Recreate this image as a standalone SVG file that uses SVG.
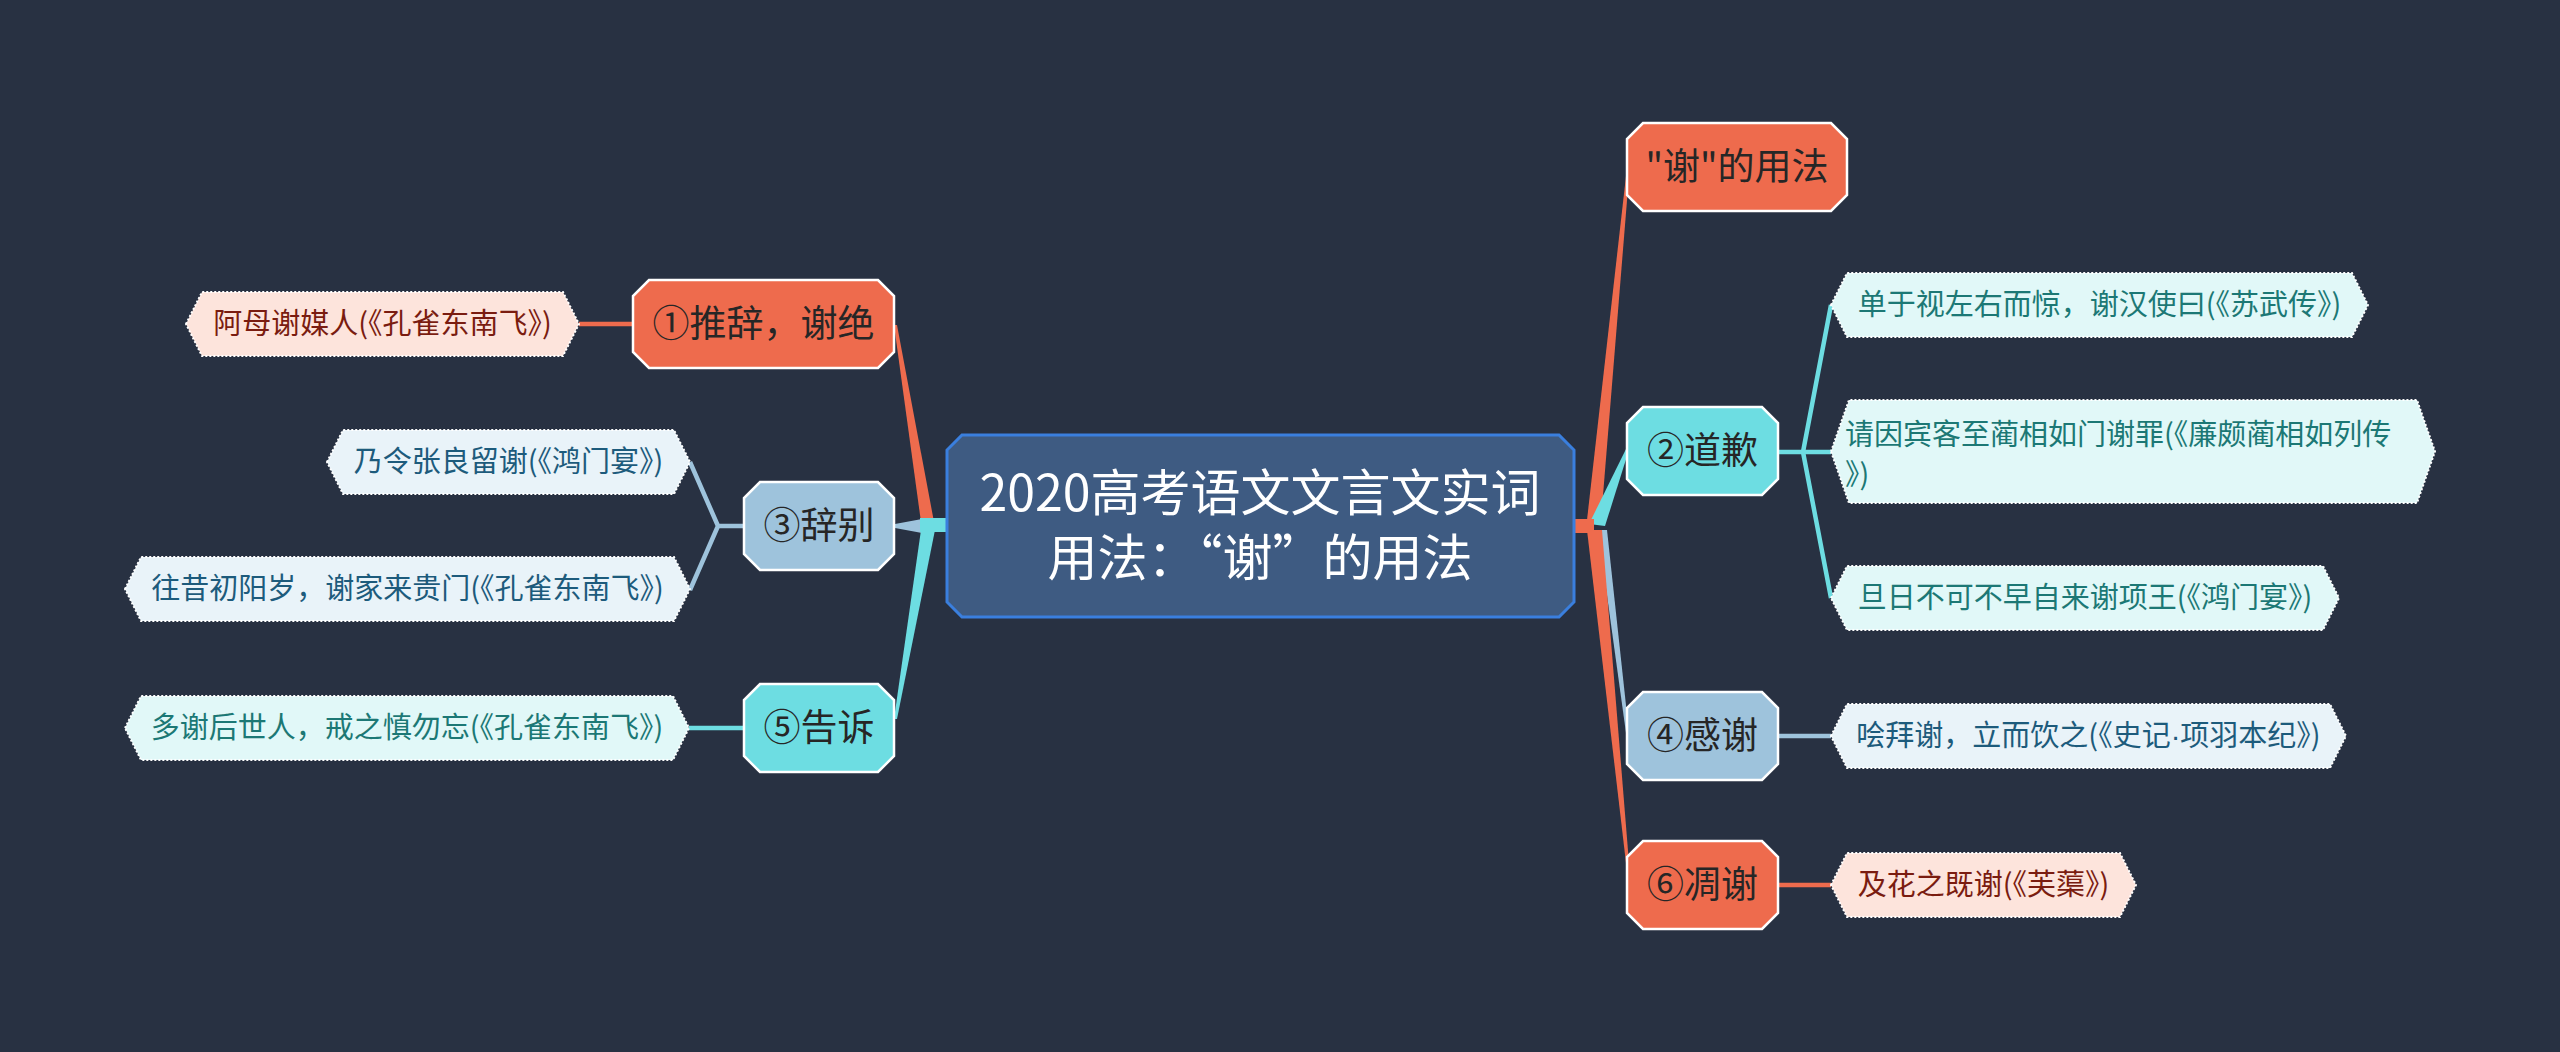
<svg xmlns="http://www.w3.org/2000/svg" width="2560" height="1052" viewBox="0 0 2560 1052">
<style>
text{font-family:"Noto Sans CJK SC","Noto Sans",sans-serif;}
.main{fill:#3e5b82;stroke:#3a7fde;stroke-width:3;}
.mt{fill:#ffffff;font-size:50px;text-anchor:middle;}
.n1{stroke:#ffffff;stroke-width:2.5;}
.or{fill:#ee6b4d;}
.bl{fill:#9ec3dc;}
.cy{fill:#6ddde2;}
.t1{fill:#262626;font-size:37px;text-anchor:middle;}
.lf{stroke:#ffffff;stroke-width:2;stroke-dasharray:2 2;}
.lp{fill:#fde4dc;}
.lb{fill:#e9f3f9;}
.lc{fill:#e1f8f8;}
.t2{font-size:29px;text-anchor:middle;}
.tp{fill:#7a1c10;}
.tb{fill:#1d5b7c;}
.tc{fill:#1c7875;}
.c-or{stroke:#ee6b4d;}
.c-bl{stroke:#9ec3dc;}
.c-cy{stroke:#6ddde2;}
.lk{fill:none;stroke-width:4.5;stroke-linejoin:round;}
</style>
<rect x="0" y="0" width="2560" height="1052" fill="#283142"/>
<g id="connectors">
  <path class="or" d="M921 522 L894 325 L897 325 L934 522 Z"/>
  <path class="bl" d="M922 519 L895 524 L895 528 L922 533 Z"/>
  <path class="cy" d="M921 530 L894 719 L897 719 L935 530 Z"/>
  <rect class="cy" x="920" y="518" width="28" height="14"/>
  <path class="bl" d="M1598 530 L1626 733 L1629 733 L1607 530 Z"/>
  <path class="or" d="M1587 530 L1626 863 L1629 863 L1602 530 Z"/>
  <path class="or" d="M1587 520 L1626 176 L1629 176 L1601 520 Z"/>
  <path class="cy" d="M1589 524 L1627 447 L1628 453 L1605 526 Z"/>
  <rect class="or" x="1572" y="519" width="22" height="14"/>
  <path class="lk c-or" d="M579 324 H633"/>
  <path class="lk c-bl" d="M744 526 H718 M690 462 L718 526 L690 590"/>
  <path class="lk c-cy" d="M689 728 H744"/>
  <path class="lk c-cy" d="M1778 452 H1831 M1831 305 L1803 452 L1831 598"/>
  <path class="lk c-bl" d="M1778 736 H1831"/>
  <path class="lk c-or" d="M1778 885 H1831"/>
</g>
<g id="root">
  <path class="main" d="M962 435 H1559 L1574 450 V602 L1559 617 H962 L947 602 V450 Z"/>
  <text class="mt" x="1260" y="511">2020高考语文文言文实词</text>
  <text class="mt" x="1260" y="576">用法：“谢”的用法</text>
</g>
<g id="n1">
  <path class="n1 or" d="M649 280 H878 L894 296 V352 L878 368 H649 L633 352 V296 Z"/>
  <text class="t1" x="763.5" y="337">①推辞，谢绝</text>
</g>
<g id="n3">
  <path class="n1 bl" d="M760 482 H878 L894 498 V554 L878 570 H760 L744 554 V498 Z"/>
  <text class="t1" x="819" y="539">③辞别</text>
</g>
<g id="n5">
  <path class="n1 cy" d="M760 684 H878 L894 700 V756 L878 772 H760 L744 756 V700 Z"/>
  <text class="t1" x="819" y="741">⑤告诉</text>
</g>
<g id="n0">
  <path class="n1 or" d="M1643 123 H1831 L1847 139 V195 L1831 211 H1643 L1627 195 V139 Z"/>
  <text class="t1" x="1737" y="180">"谢"的用法</text>
</g>
<g id="n2">
  <path class="n1 cy" d="M1643 407 H1762 L1778 423 V479 L1762 495 H1643 L1627 479 V423 Z"/>
  <text class="t1" x="1702.5" y="464">②道歉</text>
</g>
<g id="n4">
  <path class="n1 bl" d="M1643 692 H1762 L1778 708 V764 L1762 780 H1643 L1627 764 V708 Z"/>
  <text class="t1" x="1702.5" y="749">④感谢</text>
</g>
<g id="n6">
  <path class="n1 or" d="M1643 841 H1762 L1778 857 V913 L1762 929 H1643 L1627 913 V857 Z"/>
  <text class="t1" x="1702.5" y="898">⑥凋谢</text>
</g>
<g id="leaf1">
  <polygon class="lf lp" points="186,324 202,292 563,292 579,324 563,356 202,356"/>
  <text class="t2 tp" x="382.5" y="334">阿母谢媒人(《孔雀东南飞》)</text>
</g>
<g id="leaf3a">
  <polygon class="lf lb" points="327,462 343,430 674,430 690,462 674,494 343,494"/>
  <text class="t2 tb" x="508.5" y="472">乃令张良留谢(《鸿门宴》)</text>
</g>
<g id="leaf3b">
  <polygon class="lf lb" points="125,589 141,557 674,557 690,589 674,621 141,621"/>
  <text class="t2 tb" x="407.5" y="599">往昔初阳岁，谢家来贵门(《孔雀东南飞》)</text>
</g>
<g id="leaf5">
  <polygon class="lf lc" points="125,728 141,696 673,696 689,728 673,760 141,760"/>
  <text class="t2 tc" x="407" y="738">多谢后世人，戒之慎勿忘(《孔雀东南飞》)</text>
</g>
<g id="leaf2a">
  <polygon class="lf lc" points="1831,305 1847,273 2352,273 2368,305 2352,337 1847,337"/>
  <text class="t2 tc" x="2099.5" y="315">单于视左右而惊，谢汉使曰(《苏武传》)</text>
</g>
<g id="leaf2b">
  <polygon class="lf lc" points="1831,451.5 1849,400 2417,400 2435,451.5 2417,503 1849,503"/>
  <text class="t2 tc" x="1845" y="445" style="text-anchor:start">请因宾客至蔺相如门谢罪(《廉颇蔺相如列传</text>
  <text class="t2 tc" x="1845" y="485" style="text-anchor:start">》)</text>
</g>
<g id="leaf2c">
  <polygon class="lf lc" points="1831,598 1847,566 2323,566 2339,598 2323,630 1847,630"/>
  <text class="t2 tc" x="2085" y="608">旦日不可不早自来谢项王(《鸿门宴》)</text>
</g>
<g id="leaf4">
  <polygon class="lf lb" points="1831,736 1847,704 2330,704 2346,736 2330,768 1847,768"/>
  <text class="t2 tb" x="2088.5" y="746">哙拜谢，立而饮之(《史记<tspan font-family="Liberation Sans, sans-serif">·</tspan>项羽本纪》)</text>
</g>
<g id="leaf6">
  <polygon class="lf lp" points="1831,885 1847,853 2120,853 2136,885 2120,917 1847,917"/>
  <text class="t2 tp" x="1983.5" y="895">及花之既谢(《芙蕖》)</text>
</g>
</svg>
